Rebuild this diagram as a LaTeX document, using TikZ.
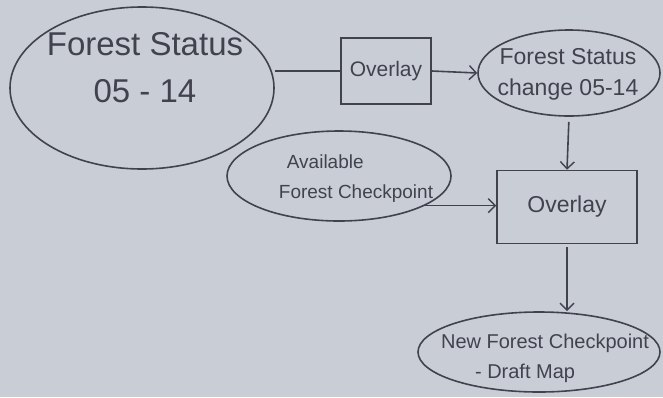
\documentclass[tikz,border=0pt]{standalone}
\usepackage{fontspec}
\setmainfont{Liberation Sans}
\usetikzlibrary{shapes.geometric,arrows.meta}
\definecolor{paper}{RGB}{201,206,214}
\definecolor{pencil}{RGB}{66,66,78}
\tikzset{
  oval/.style={ellipse,draw=pencil,line width=1.6pt,inner sep=0pt},
  boxnode/.style={rectangle,draw=pencil,line width=1.6pt,inner sep=0pt,align=center,text=pencil},
  txt/.style={align=center,text=pencil,inner sep=0pt},
  txtl/.style={align=left,text=pencil,inner sep=0pt},
  link/.style={draw=pencil,line width=1.6pt},
  arr/.style={link,-{Straight Barb[length=7pt,width=14pt,line width=1.4pt]}}
}
\begin{document}
\begin{tikzpicture}[x=1pt,y=-1pt]
\fill[paper] (0,0) rectangle (663,397);
\useasboundingbox (0,0) rectangle (663,397);
\node[oval,minimum width=264pt,minimum height=162pt] (e1) at (142,88) {};
\node[txt,font=\fontsize{33}{47}\selectfont] (t1) at (145,68) {Forest Status\\05 - 14};
\node[boxnode,minimum width=90pt,minimum height=66pt,font=\fontsize{21}{22}\selectfont] (b1) at (386,71) {Overlay};
\node[oval,minimum width=182pt,minimum height=86pt] (e2) at (569,73) {};
\node[txt,font=\fontsize{23}{31}\selectfont] (t2) at (568,74) {Forest Status\\change 05-14};
\node[oval,minimum width=224pt,minimum height=90pt] (e3) at (339,176) {};
\node[txtl,font=\fontsize{19}{30}\selectfont] (t3) at (356,179) {\hspace{8pt}Available\\Forest Checkpoint};
\node[boxnode,minimum width=140pt,minimum height=73pt,font=\fontsize{23}{24}\selectfont] (b2) at (567,207) {Overlay};
\node[oval,minimum width=242pt,minimum height=80pt] (e4) at (539,352) {};
\node[txtl,font=\fontsize{20}{30}\selectfont] (t4) at (545,358) {New Forest Checkpoint\\\hspace{34pt}- Draft Map};
\draw[link] (e1.east |- b1.west) -- (b1.west);
\draw[arr] (b1.east) -- (e2.west);
\draw[arr,shorten <=5pt] (e2.south) -- (b2.north);
\draw[arr] (e3.-19) -- (e3.-19 -| b2.west);
\draw[arr,shorten <=3pt] (b2.south) -- (e4.north -| b2.south);
\end{tikzpicture}
\end{document}
